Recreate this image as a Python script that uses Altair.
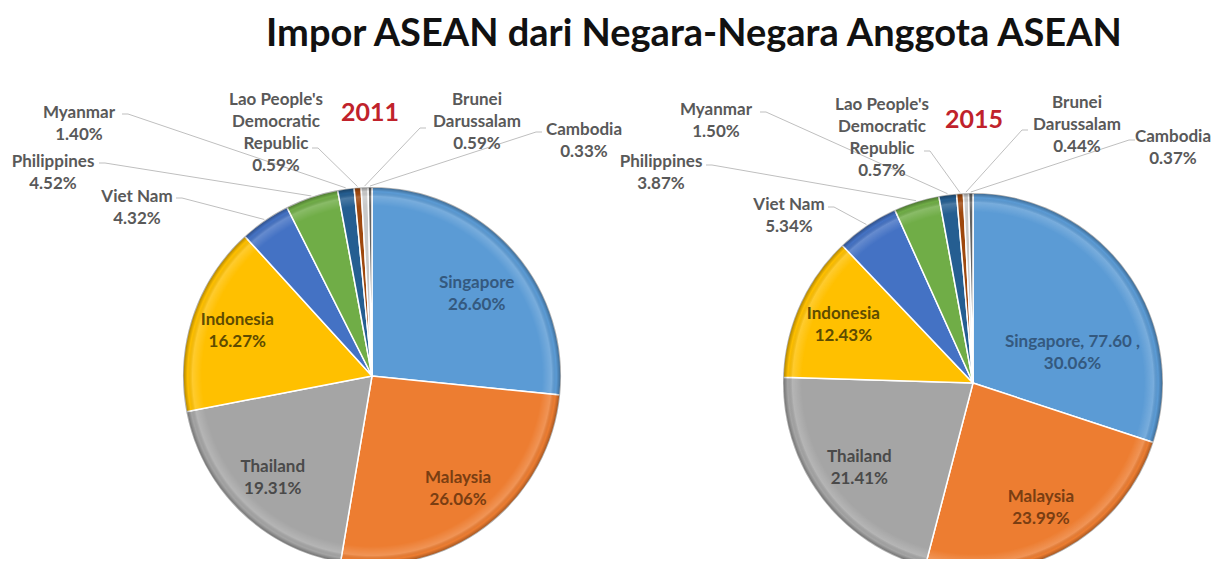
import math
import altair as alt
import pandas as pd

# ---------------- data ----------------
countries = ["Singapore", "Malaysia", "Thailand", "Indonesia", "Viet Nam",
             "Philippines", "Myanmar", "Lao People's Democratic Republic",
             "Brunei Darussalam", "Cambodia"]
label_names = {
    "Lao People's Democratic Republic": ["Lao People's", "Democratic", "Republic"],
    "Brunei Darussalam": ["Brunei", "Darussalam"],
}
share_2011 = [26.60, 26.06, 19.31, 16.27, 4.32, 4.52, 1.40, 0.59, 0.59, 0.33]
share_2015 = [30.06, 23.99, 21.41, 12.43, 5.34, 3.87, 1.50, 0.57, 0.44, 0.37]
singapore_value_2015 = "77.60"
years = ["2011", "2015"]
title_text = "Impor ASEAN dari Negara-Negara Anggota ASEAN"

# ---------------- style / layout ----------------
palette = ["#5B9BD5", "#ED7D31", "#A5A5A5", "#FFC000", "#4472C4",
           "#70AD47", "#255E91", "#9E480E", "#C9C9C9", "#636363"]
inside_colors = {"Singapore": "#34597F", "Malaysia": "#7A3E12",
                 "Thailand": "#4A4A4A", "Indonesia": "#5E4C00"}
FONT = "Lato"
W, H = 1206, 551
M = 8  # page margin
LS = 22  # label line spacing

pies = {
    "2011": dict(cx=372, cy=376, r=189, year_xy=(370, 113), shares=share_2011),
    "2015": dict(cx=973, cy=383, r=190, year_xy=(974, 120), shares=share_2015),
}
inside = ["Singapore", "Malaysia", "Thailand", "Indonesia"]
inside_nudge = {("2011", "Singapore"): (133, 4), ("2015", "Singapore"): (104, 19)}
inside_r = 142
# outside label: centre x, first line y, leader start x, y (page coords)
outside = {
    "2011": {
        "Viet Nam": (137, 197, 176, 198),
        "Philippines": (53, 162, 99, 163),
        "Myanmar": (79, 113, 122, 114),
        "Lao People's Democratic Republic": (276, 100, 312, 148),
        "Brunei Darussalam": (477, 100, 426, 128),
        "Cambodia": (584, 130, 542, 132),
    },
    "2015": {
        "Viet Nam": (789, 205, 828, 207),
        "Philippines": (661, 162, 706, 165),
        "Myanmar": (716, 110, 760, 112),
        "Lao People's Democratic Republic": (882, 105, 924, 151),
        "Brunei Darussalam": (1077, 103, 1028, 130),
        "Cambodia": (1173, 137, 1135, 140),
    },
}

layers = []
text_rows = []
line_rows = []

for yr, p in pies.items():
    shares = p["shares"]
    cx, cy, r = p["cx"] - M, p["cy"] - M, p["r"]
    df = pd.DataFrame({"country": countries, "share": shares, "idx": list(range(len(countries)))})
    arc = alt.Chart(df).mark_arc(outerRadius=r, stroke="white", strokeWidth=1.5).encode(
        theta=alt.Theta("share:Q", stack=True),
        order=alt.Order("idx:Q", sort="ascending"),
        color=alt.Color("country:N", scale=alt.Scale(domain=countries, range=palette), legend=None),
        x=alt.value(cx), y=alt.value(cy),
    )
    layers.append(arc)
    # rim shading
    rim = alt.Chart(alt.Data(values=[{"a": 1}])).mark_arc(
        outerRadius=r, strokeWidth=0,
        fill={"gradient": "radial", "x1": 0.5, "y1": 0.5, "r1": 0,
              "x2": 0.5, "y2": 0.5, "r2": 0.5,
              "stops": [{"offset": 0, "color": "rgba(255,255,255,0)"},
                        {"offset": 0.9, "color": "rgba(255,255,255,0)"},
                        {"offset": 0.95, "color": "rgba(255,255,255,0.18)"},
                        {"offset": 0.975, "color": "rgba(0,0,0,0)"},
                        {"offset": 1, "color": "rgba(0,0,0,0.35)"}]},
    ).encode(theta=alt.value(0), theta2=alt.value(2 * math.pi), x=alt.value(cx), y=alt.value(cy))
    layers.append(rim)

    total = sum(shares)
    cum = 0.0
    for c, s in zip(countries, shares):
        mid = (cum + s / 2) / total * 360.0
        cum += s
        pct = f"{s:.2f}%"
        if c in inside:
            rl, dth = inside_nudge.get((yr, c), (inside_r, 0))
            th = math.radians(mid + dth)
            bx = cx + rl * math.sin(th)
            by = cy - rl * math.cos(th)
            name = c
            if yr == "2015" and c == "Singapore":
                name = f"Singapore, {singapore_value_2015} ,"
            lines = [name, pct]
            for i, t in enumerate(lines):
                text_rows.append({"x": bx, "y": by + (i - 0.5) * LS, "t": t, "col": inside_colors[c]})
        else:
            tx, ty, lx, ly = outside[yr][c]
            lines = label_names.get(c, [c]) + [pct]
            for i, t in enumerate(lines):
                text_rows.append({"x": tx - M, "y": ty - M + i * LS, "t": t, "col": "#595959"})
            th = math.radians(mid)
            ex = cx + (r + 1) * math.sin(th)
            ey = cy - (r + 1) * math.cos(th)
            sx, sy = lx - M, ly - M
            step = 6 if sx < ex else -6
            g = f"{yr}-{c}"
            line_rows += [
                {"x": sx, "y": sy, "g": g, "o": 0},
                {"x": sx + step, "y": sy, "g": g, "o": 1},
                {"x": ex, "y": ey, "g": g, "o": 2},
            ]

lines_chart = alt.Chart(pd.DataFrame(line_rows)).mark_line(color="#BFBFBF", strokeWidth=1).encode(
    x=alt.X("x:Q", scale=None), y=alt.Y("y:Q", scale=None),
    detail="g:N", order="o:Q",
)
labels_chart = alt.Chart(pd.DataFrame(text_rows)).mark_text(
    font=FONT, fontWeight="bold", fontSize=17, baseline="middle", align="center"
).encode(
    x=alt.X("x:Q", scale=None), y=alt.Y("y:Q", scale=None),
    text="t:N", color=alt.Color("col:N", scale=None),
)
year_rows = [{"x": pies[y]["year_xy"][0] - M, "y": pies[y]["year_xy"][1] - M, "t": y} for y in years]
year_chart = alt.Chart(pd.DataFrame(year_rows)).mark_text(
    font=FONT, fontWeight="bold", fontSize=25, color="#C0222B", baseline="middle", align="center"
).encode(x=alt.X("x:Q", scale=None), y=alt.Y("y:Q", scale=None), text="t:N")
title_chart = alt.Chart(pd.DataFrame([{"x": 694 - M, "y": 46 - M, "t": title_text}])).mark_text(
    font=FONT, fontWeight="bold", fontSize=38, color="#111111", baseline="alphabetic", align="center"
).encode(x=alt.X("x:Q", scale=None), y=alt.Y("y:Q", scale=None), text="t:N")

chart = alt.layer(*layers, lines_chart, labels_chart, year_chart, title_chart).resolve_scale(
    theta="independent", color="independent"
).properties(
    width=W, height=H, autosize=alt.AutoSizeParams(type="none"), padding=0, background="white"
).configure_view(strokeWidth=0)

chart.save("out.html", embed_options={"renderer": "svg", "actions": False})
